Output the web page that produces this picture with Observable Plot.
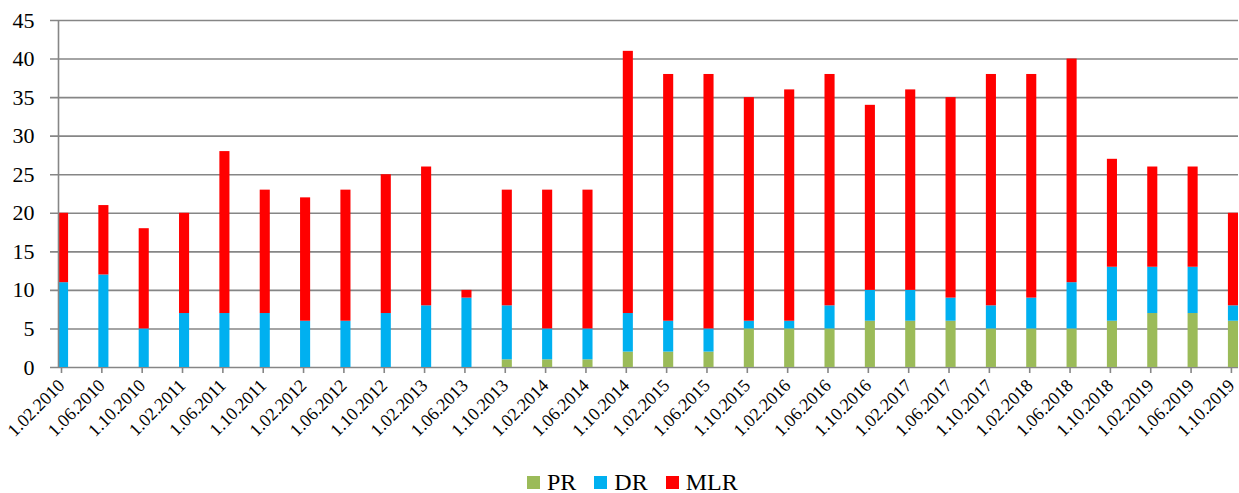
<!DOCTYPE html>
<html>
<head>
<meta charset="utf-8">
<script src="https://cdn.jsdelivr.net/npm/d3@7"></script>
<script src="https://cdn.jsdelivr.net/npm/@observablehq/plot@0.6"></script>
<style>
  html, body { margin: 0; padding: 0; background: #fff; }
  #wrap { position: relative; width: 1239px; height: 493px; }
  #legend { position: absolute; left: 527px; top: 469px; display: flex; align-items: center;
            font-family: "Liberation Serif", "DejaVu Serif", serif; font-size: 24px; color: #000; }
  .item { display: flex; align-items: center; margin-right: 18px; }
  .sw { width: 13px; height: 13px; margin-right: 7px; }
</style>
</head>
<body>
<div id="wrap"><div id="chart"></div><div id="legend"></div></div>
<script>
const dates = ["1.02.2010","1.06.2010","1.10.2010","1.02.2011","1.06.2011","1.10.2011","1.02.2012","1.06.2012","1.10.2012","1.02.2013","1.06.2013","1.10.2013","1.02.2014","1.06.2014","1.10.2014","1.02.2015","1.06.2015","1.10.2015","1.02.2016","1.06.2016","1.10.2016","1.02.2017","1.06.2017","1.10.2017","1.02.2018","1.06.2018","1.10.2018","1.02.2019","1.06.2019","1.10.2019"];
const PR  = [0,0,0,0,0,0,0,0,0,0,0,1,1,1,2,2,2,5,5,5,6,6,6,5,5,5,6,7,7,6];
const DR  = [11,12,5,7,7,7,6,6,7,8,9,7,4,4,5,4,3,1,1,3,4,4,3,3,4,6,7,6,6,2];
const MLR = [9,9,13,13,21,16,16,17,18,18,1,15,18,18,34,32,33,29,30,30,24,26,26,30,29,29,14,13,13,12];
const seriesNames = ["PR","DR","MLR"];
const seriesColors = ["#9BBB59","#00B0F0","#FF0000"];
const yTicks = [0,5,10,15,20,25,30,35,40,45];

const valuesBySeries = [PR, DR, MLR];
const rows = dates.flatMap((d, i) => seriesNames.map((s, k) => ({i, date: d, series: s, value: valuesBySeries[k][i]})));
const barWidth = 0.25;
const gray = "#868686";
const font = "Liberation Serif, DejaVu Serif, serif";

const chart = Plot.plot({
  width: 1239,
  height: 458,
  marginLeft: 58,
  marginRight: 1,
  marginTop: 20,
  marginBottom: 91,
  style: {fontFamily: font, background: "#fff", color: "#000"},
  x: {domain: [0, dates.length - 1 + barWidth], axis: null, label: null},
  y: {domain: [0, 45], axis: null, label: null},
  color: {domain: seriesNames, range: seriesColors},
  marks: [
    Plot.ruleY(yTicks, {y: d => d, x1: -8 / 40.34, x2: dates.length - 1 + barWidth, stroke: gray, strokeWidth: 1.6}),
    Plot.rectY(rows, Plot.stackY({x1: "i", x2: d => d.i + barWidth, y: "value", fill: "series"})),
    Plot.ruleX([0], {stroke: gray, strokeWidth: 1.6}),
    Plot.axisY({ticks: yTicks, tickSize: 0, tickPadding: 24, fontSize: 22, fill: "#000", label: null}),
    Plot.axisX({ticks: d3.range(dates.length), tickFormat: i => dates[i], tickSize: 6, stroke: gray, strokeWidth: 1.6,
                tickRotate: -45, fontSize: 18, fill: "#000", tickPadding: 9, dx: 3, label: null})
  ]
});
document.getElementById("chart").appendChild(chart);

const legend = document.getElementById("legend");
seriesNames.forEach((s, k) => {
  const it = document.createElement("div");
  it.className = "item";
  it.innerHTML = `<div class="sw" style="background:${seriesColors[k]}"></div><span>${s}</span>`;
  legend.appendChild(it);
});
</script>
</body>
</html>
